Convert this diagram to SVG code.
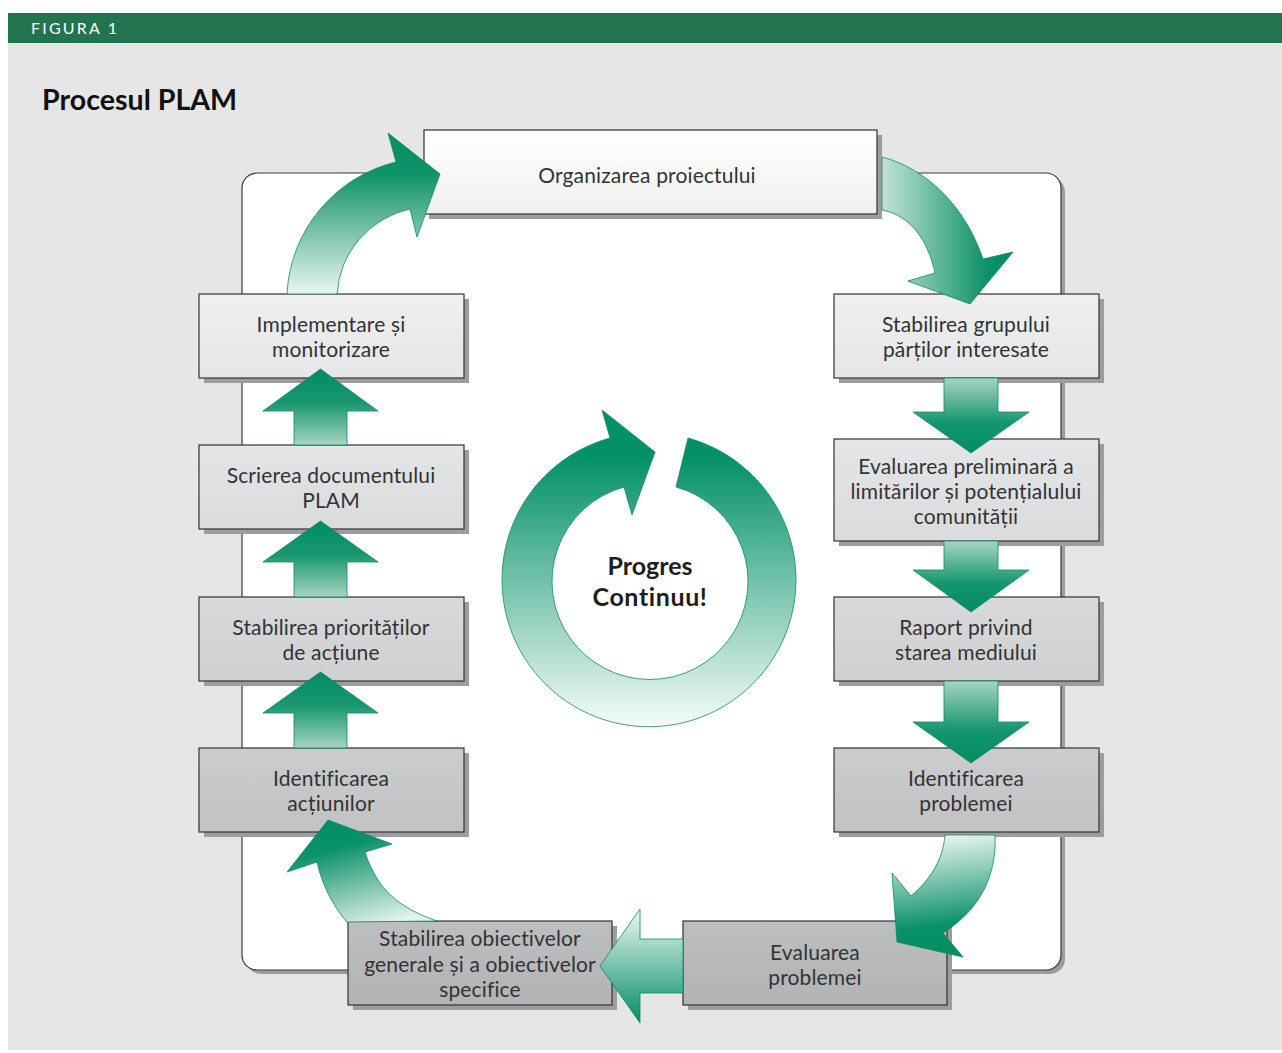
<svg xmlns="http://www.w3.org/2000/svg" width="1282" height="1053" viewBox="0 0 1282 1053">
<style>
.sh{fill:#9d9d9f}
.bx{stroke:#333;stroke-width:1.2}
.t{font-family:Lato,"Open Sans","Liberation Sans",sans-serif;font-size:21px;letter-spacing:0.15px;fill:#333;text-anchor:middle}
.arr{stroke:#0f8a5f;stroke-width:0.8}
</style>
<defs>
<linearGradient id="l0" x1="0" y1="0" x2="0" y2="1"><stop offset="0" stop-color="#ffffff"/><stop offset="1" stop-color="#f0f0f1"/></linearGradient>
<linearGradient id="l1" x1="0" y1="0" x2="0" y2="1"><stop offset="0" stop-color="#efeff0"/><stop offset="1" stop-color="#e5e6e7"/></linearGradient>
<linearGradient id="l2" x1="0" y1="0" x2="0" y2="1"><stop offset="0" stop-color="#e4e5e6"/><stop offset="1" stop-color="#dadbdd"/></linearGradient>
<linearGradient id="l3" x1="0" y1="0" x2="0" y2="1"><stop offset="0" stop-color="#d8d9db"/><stop offset="1" stop-color="#cfd0d2"/></linearGradient>
<linearGradient id="l4" x1="0" y1="0" x2="0" y2="1"><stop offset="0" stop-color="#cbccce"/><stop offset="1" stop-color="#c1c2c4"/></linearGradient>
<linearGradient id="l5" x1="0" y1="0" x2="0" y2="1"><stop offset="0" stop-color="#bdbec0"/><stop offset="1" stop-color="#b2b3b5"/></linearGradient>
<linearGradient id="gUp" x1="0" y1="0" x2="0" y2="1"><stop offset="0" stop-color="#008b61"/><stop offset="0.45" stop-color="#1a9870"/><stop offset="1" stop-color="#a6d5c1"/></linearGradient>
<linearGradient id="gDown" x1="0" y1="0" x2="0" y2="1"><stop offset="0" stop-color="#a6d5c1"/><stop offset="0.6" stop-color="#14966d"/><stop offset="1" stop-color="#008c62"/></linearGradient>
<linearGradient id="gTL" x1="0" y1="1" x2="0" y2="0"><stop offset="0" stop-color="#ebf6f1"/><stop offset="0.75" stop-color="#0f9267"/><stop offset="1" stop-color="#008e64"/></linearGradient>
<linearGradient id="gTR" x1="0" y1="0" x2="1" y2="0"><stop offset="0" stop-color="#c2e3d6"/><stop offset="0.8" stop-color="#0e9168"/><stop offset="1" stop-color="#008a60"/></linearGradient>
<linearGradient id="gBR" x1="0.3" y1="0" x2="0.4" y2="1"><stop offset="0" stop-color="#f0f8f5"/><stop offset="0.75" stop-color="#0a9168"/><stop offset="1" stop-color="#008e64"/></linearGradient>
<linearGradient id="gBL" x1="0.7" y1="1" x2="0.3" y2="0"><stop offset="0" stop-color="#e3f2ec"/><stop offset="0.75" stop-color="#0b9268"/><stop offset="1" stop-color="#008c62"/></linearGradient>
<linearGradient id="gH" x1="0" y1="0" x2="0" y2="1"><stop offset="0" stop-color="#eef7f3"/><stop offset="1" stop-color="#008e64"/></linearGradient>
<linearGradient id="gRing" x1="0" y1="0" x2="0" y2="1"><stop offset="0" stop-color="#009068"/><stop offset="0.15" stop-color="#049168"/><stop offset="1" stop-color="#f5fbf8"/></linearGradient>
</defs>

<rect x="0" y="0" width="1282" height="1053" fill="#ffffff"/>
<rect x="8" y="13" width="1274" height="1037" fill="#e6e6e6"/>
<rect x="8" y="13" width="1274" height="30" fill="#22744f"/>
<text x="31" y="34" font-family="Lato,'Open Sans',sans-serif" font-size="16" letter-spacing="2.2" fill="#ffffff">FIGURA 1</text>
<text x="42" y="110" font-family="Lato,'Open Sans',sans-serif" font-size="28.6" font-weight="bold" fill="#111">Procesul PLAM</text>

<g id="panel">
<rect x="246" y="177" width="819" height="797" rx="15" fill="#9c9c9c"/>
<rect x="242" y="173" width="819" height="797" rx="15" fill="#ffffff" stroke="#3a3a3a" stroke-width="1.2"/>
</g>

<g id="n-organizarea">
<rect class="sh" x="429" y="135" width="453" height="84"/>
<rect class="bx" x="424" y="130" width="453" height="84" fill="url(#l0)"/>
<text class="t" x="647" y="183">Organizarea proiectului</text>
</g>
<g id="n-implementare">
<rect class="sh" x="204" y="299" width="265" height="84"/>
<rect class="bx" x="199" y="294" width="265" height="84" fill="url(#l1)"/>
<text class="t" x="331" y="332">Implementare și</text>
<text class="t" x="331" y="357">monitorizare</text>
</g>
<g id="n-scrierea">
<rect class="sh" x="204" y="450" width="265" height="84"/>
<rect class="bx" x="199" y="445" width="265" height="84" fill="url(#l2)"/>
<text class="t" x="331" y="483">Scrierea documentului</text>
<text class="t" x="331" y="508">PLAM</text>
</g>
<g id="n-prioritati">
<rect class="sh" x="204" y="602" width="265" height="84"/>
<rect class="bx" x="199" y="597" width="265" height="84" fill="url(#l3)"/>
<text class="t" x="331" y="635">Stabilirea priorităților</text>
<text class="t" x="331" y="660">de acțiune</text>
</g>
<g id="n-actiuni">
<rect class="sh" x="204" y="753" width="265" height="84"/>
<rect class="bx" x="199" y="748" width="265" height="84" fill="url(#l4)"/>
<text class="t" x="331" y="786">Identificarea</text>
<text class="t" x="331" y="811">acțiunilor</text>
</g>
<g id="n-grup">
<rect class="sh" x="839" y="299" width="265" height="84"/>
<rect class="bx" x="834" y="294" width="265" height="84" fill="url(#l1)"/>
<text class="t" x="966" y="332">Stabilirea grupului</text>
<text class="t" x="966" y="357">părților interesate</text>
</g>
<g id="n-preliminara">
<rect class="sh" x="839" y="444" width="265" height="102"/>
<rect class="bx" x="834" y="439" width="265" height="102" fill="url(#l2)"/>
<text class="t" x="966" y="474">Evaluarea preliminară a</text>
<text class="t" x="966" y="499">limitărilor și potențialului</text>
<text class="t" x="966" y="524">comunității</text>
</g>
<g id="n-raport">
<rect class="sh" x="839" y="602" width="265" height="84"/>
<rect class="bx" x="834" y="597" width="265" height="84" fill="url(#l3)"/>
<text class="t" x="966" y="635">Raport privind</text>
<text class="t" x="966" y="660">starea mediului</text>
</g>
<g id="n-problemei">
<rect class="sh" x="839" y="753" width="265" height="84"/>
<rect class="bx" x="834" y="748" width="265" height="84" fill="url(#l4)"/>
<text class="t" x="966" y="786">Identificarea</text>
<text class="t" x="966" y="811">problemei</text>
</g>
<g id="n-evaluarea">
<rect class="sh" x="688" y="926" width="264" height="84"/>
<rect class="bx" x="683" y="921" width="264" height="84" fill="url(#l5)"/>
<text class="t" x="815" y="960">Evaluarea</text>
<text class="t" x="815" y="985">problemei</text>
</g>
<g id="n-obiective">
<rect class="sh" x="353" y="926" width="264" height="84"/>
<rect class="bx" x="348" y="921" width="264" height="84" fill="url(#l5)"/>
<text class="t" x="480" y="946">Stabilirea obiectivelor</text>
<text class="t" x="480" y="972">generale și a obiectivelor</text>
<text class="t" x="480" y="997">specifice</text>
</g>

<g id="connectors">
<path class="arr" fill="url(#gTL)" d="M287,294 A143,143 0 0 1 396,162 L388,133 L440,174 L417,237 L410,209 A93,93 0 0 0 337,294 Z"/>
<path class="arr" fill="url(#gTR)" d="M882,157 C925,168 965,205 983,259 L1013,252 L970,304 L908,281 L935,273 C928,240 910,215 882,210 Z"/>
<path class="arr" fill="url(#gDown)" d="M944,378 L998,378 L998,412 L1029,412 L971,453 L913,412 L944,412 Z"/>
<path class="arr" fill="url(#gDown)" d="M944,541 L998,541 L998,570 L1029,570 L971,612 L913,570 L944,570 Z"/>
<path class="arr" fill="url(#gDown)" d="M944,681 L998,681 L998,722 L1029,722 L971,763 L913,722 L944,722 Z"/>
<path class="arr" fill="url(#gBR)" d="M995,835 C997,875 980,910 943,933 L963,957 L897,942 L892,873 L911,896 C930,880 943,860 945,835 Z"/>
<path class="arr" fill="url(#gH)" d="M683,939 L640,939 L640,909 L600,966 L640,1023 L640,993 L683,993 Z"/>
<path class="arr" fill="url(#gBL)" d="M437,921 C415,914 390,900 378,880 C372,870 368,862 365,852 L392,844 L328,820 L287,872 L317,862 C322,885 333,906 347,922 Z"/>
<path class="arr" fill="url(#gUp)" d="M294,748 L347,748 L347,713 L378,713 L320.5,672 L263,713 L294,713 Z"/>
<path class="arr" fill="url(#gUp)" d="M294,597 L347,597 L347,562 L378,562 L320.5,521 L263,562 L294,562 Z"/>
<path class="arr" fill="url(#gUp)" d="M294,445 L347,445 L347,411 L378,411 L320.5,369 L263,411 L294,411 Z"/>
</g>

<g id="progres">
<path class="arr" fill="url(#gRing)" d="M688,438 A147,147 0 1 1 610,438 L602,410 L655,452 L632,515 L624,487 A98,98 0 1 0 676,487 Z"/>
<text x="650" y="575" font-family="Lato,'Open Sans',sans-serif" font-size="25" font-weight="bold" fill="#1e1e1e" text-anchor="middle">Progres</text>
<text x="650" y="606" font-family="Lato,'Open Sans',sans-serif" font-size="25" font-weight="bold" letter-spacing="0.6" fill="#1e1e1e" text-anchor="middle">Continuu!</text>
</g>
</svg>
